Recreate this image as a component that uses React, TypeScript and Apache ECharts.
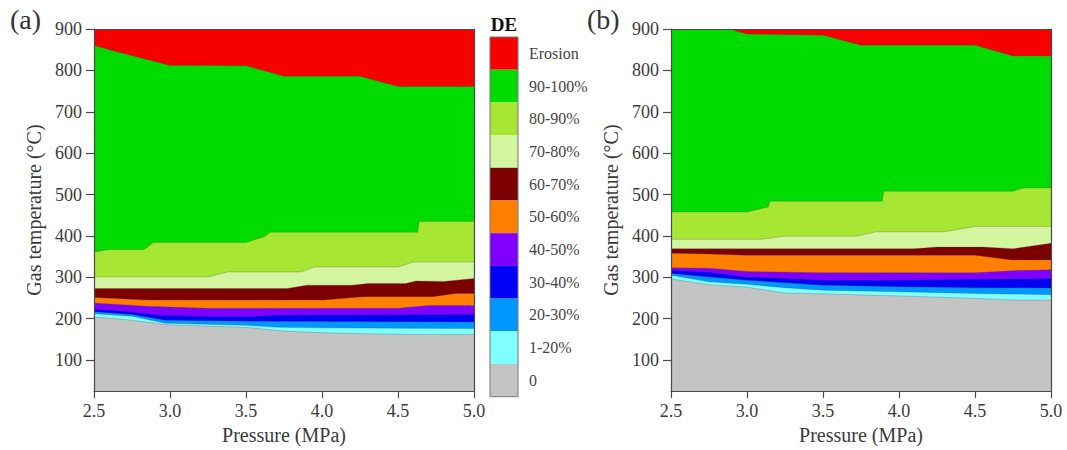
import React, { useEffect, useRef } from "react";
import * as echarts from "echarts";

type Pt = [number, number];

const LEGEND_LABELS = ["Erosion", "90-100%", "80-90%", "70-80%", "60-70%", "50-60%", "40-50%", "30-40%", "20-30%", "1-20%", "0"];
const COLORS = ["#f80000", "#00dc00", "#a8e634", "#d3f5a0", "#7d0000", "#ff8000", "#8000ff", "#0000f5", "#0098ff", "#80ffff", "#c4c4c4"];
const Y_TICKS = [100, 200, 300, 400, 500, 600, 700, 800, 900];

// Panel (a): upper boundary of each DE band
const A_EROSION: Pt[] = [[2.5, 900], [5.0, 900]];
const A_G90: Pt[] = [[2.5, 860], [2.65, 845], [3.0, 812], [3.5, 811], [3.75, 786], [4.25, 786], [4.5, 761], [5.0, 761]];
const A_G80: Pt[] = [[2.5, 361], [2.6, 367], [2.83, 367], [2.89, 384], [3.5, 384], [3.62, 398], [3.66, 409], [4.63, 409], [4.64, 435], [5.0, 435]];
const A_G70: Pt[] = [[2.5, 301], [3.25, 301], [3.38, 313], [3.86, 313], [3.95, 325], [4.5, 325], [4.6, 337], [5.0, 337]];
const A_R60: Pt[] = [[2.5, 273], [3.77, 273], [3.9, 281], [4.2, 281], [4.3, 285], [4.55, 285], [4.62, 291], [4.8, 290], [5.0, 297]];
const A_O50: Pt[] = [[2.5, 251], [2.85, 245], [4.01, 245], [4.27, 253], [4.73, 253], [4.88, 261], [5.0, 261]];
const A_P40: Pt[] = [[2.5, 238], [2.85, 230], [3.25, 225], [4.5, 225], [4.7, 232], [5.0, 232]];
const A_B30: Pt[] = [[2.5, 223], [2.7, 218], [2.95, 208], [3.3, 205], [3.5, 205], [3.75, 209], [5.0, 210]];
const A_S20: Pt[] = [[2.5, 217], [2.75, 210], [2.97, 196], [3.5, 194], [4.0, 193], [5.0, 192]];
const A_C1: Pt[] = [[2.5, 212], [2.75, 206], [2.97, 189], [3.5, 184], [3.72, 179], [4.0, 178], [4.5, 177], [5.0, 176]];
const A_GRAY: Pt[] = [[2.5, 204], [2.7, 198], [3.0, 185], [3.5, 179], [3.75, 170], [4.0, 166], [4.5, 162], [5.0, 162]];

// Panel (b)
const B_EROSION: Pt[] = [[2.5, 900], [5.0, 900]];
const B_G90: Pt[] = [[2.5, 900], [2.88, 900], [3.0, 888], [3.5, 885], [3.75, 861], [4.5, 861], [4.75, 835], [5.0, 835]];
const B_G80: Pt[] = [[2.5, 458], [3.0, 458], [3.14, 470], [3.15, 484], [3.89, 484], [3.9, 508], [4.75, 508], [4.82, 516], [5.0, 516]];
const B_G70: Pt[] = [[2.5, 392], [3.1, 392], [3.24, 399], [3.72, 399], [3.85, 410], [4.3, 410], [4.5, 423], [5.0, 423]];
const B_R60: Pt[] = [[2.5, 369], [4.1, 369], [4.25, 373], [4.55, 373], [4.75, 369], [5.0, 382]];
const B_O50: Pt[] = [[2.5, 358], [2.75, 356], [3.0, 353], [4.5, 353], [4.74, 342], [5.0, 342]];
const B_P40: Pt[] = [[2.5, 323], [2.75, 322], [3.0, 314], [3.5, 311], [4.5, 311], [4.74, 316], [5.0, 318]];
const B_B30: Pt[] = [[2.5, 317], [2.75, 312], [3.0, 301], [3.5, 293], [4.0, 293], [4.5, 295], [5.0, 297]];
const B_S20: Pt[] = [[2.5, 309], [2.75, 301], [3.0, 293], [3.5, 281], [4.0, 277], [4.5, 275], [5.0, 274]];
const B_C1: Pt[] = [[2.5, 305], [2.75, 289], [3.0, 283], [3.25, 275], [3.5, 269], [4.0, 265], [4.5, 261], [5.0, 258]];
const B_GRAY: Pt[] = [[2.5, 296], [2.75, 282], [3.0, 276], [3.25, 262], [3.5, 260], [4.0, 255], [4.5, 249], [4.75, 245], [5.0, 245]];

const PANEL_A = [A_EROSION, A_G90, A_G80, A_G70, A_R60, A_O50, A_P40, A_B30, A_S20, A_C1, A_GRAY];
const PANEL_B = [B_EROSION, B_G90, B_G80, B_G70, B_R60, B_O50, B_P40, B_B30, B_S20, B_C1, B_GRAY];

const FONT = "'Liberation Serif', 'Times New Roman', serif";
const AXIS_COLOR = "#4a4a4a";
const TEXT_COLOR = "#3a3a3a";

export default function App() {
  const ref = useRef<HTMLDivElement>(null);
  useEffect(() => {
    document.body.style.margin = "0";
    const chart = echarts.init(ref.current!, undefined, { renderer: "svg" });
    const grids = [
      { left: 94, top: 29, width: 380, height: 366 },
      { left: 671, top: 29, width: 380, height: 366 },
    ];
    const xAxis: any[] = [];
    const yAxis: any[] = [];
    grids.forEach((_, gi) => {
      xAxis.push({
        type: "value", gridIndex: gi, min: 2.5, max: 5.0, interval: 0.5, z: 10,
        name: "Pressure (MPa)", nameLocation: "middle", nameGap: 31,
        nameTextStyle: { fontFamily: FONT, fontSize: 20, color: TEXT_COLOR },
        axisLine: { show: true, lineStyle: { color: AXIS_COLOR, width: 1.2 } },
        axisTick: { show: true, inside: false, length: 7, lineStyle: { color: AXIS_COLOR, width: 1.2 } },
        axisLabel: { fontFamily: FONT, fontSize: 18, color: TEXT_COLOR, margin: 11, formatter: (v: number) => v.toFixed(1) },
        splitLine: { show: false },
      });
      xAxis.push({
        type: "value", gridIndex: gi, min: 2.5, max: 5.0, position: "top", z: 10,
        axisLine: { show: true, lineStyle: { color: AXIS_COLOR, width: 1.2 } },
        axisTick: { show: false }, axisLabel: { show: false }, splitLine: { show: false },
      });
      yAxis.push({
        type: "value", gridIndex: gi, min: 25, max: 900, z: 10,
        name: "Gas temperature (\u00B0C)", nameLocation: "middle", nameGap: 50,
        nameTextStyle: { fontFamily: FONT, fontSize: 20, color: TEXT_COLOR },
        axisLine: { show: true, lineStyle: { color: AXIS_COLOR, width: 1.2 } },
        axisTick: { show: true, inside: false, length: 8, customValues: Y_TICKS, lineStyle: { color: AXIS_COLOR, width: 1.2 } },
        axisLabel: { fontFamily: FONT, fontSize: 18, color: TEXT_COLOR, margin: 12, customValues: Y_TICKS },
        splitLine: { show: false },
      });
      yAxis.push({
        type: "value", gridIndex: gi, min: 25, max: 900, position: "right", z: 10,
        axisLine: { show: true, lineStyle: { color: AXIS_COLOR, width: 1.2 } },
        axisTick: { show: false }, axisLabel: { show: false }, splitLine: { show: false },
      });
    });
    const series: any[] = [];
    [PANEL_A, PANEL_B].forEach((bands, gi) => {
      bands.forEach((pts, bi) => {
        series.push({
          type: "line", name: LEGEND_LABELS[bi], xAxisIndex: gi * 2, yAxisIndex: gi * 2,
          data: pts, symbol: "none", silent: true, smooth: false,
          lineStyle: { width: bi === 0 ? 0 : 0.6, color: "rgba(70,70,70,0.45)" },
          areaStyle: { color: COLORS[bi], opacity: 1, origin: "start" },
        });
      });
    });
    const cellTop = 37, cellH = 32.7, cellX = 490, cellW = 28;
    const graphic: any[] = [
      { type: "text", left: 10, top: 5, style: { text: "(a)", fontFamily: FONT, fontSize: 28, fill: "#333" } },
      { type: "text", left: 587, top: 5, style: { text: "(b)", fontFamily: FONT, fontSize: 28, fill: "#333" } },
      { type: "text", x: 504, y: 24, style: { text: "DE", fontFamily: FONT, fontSize: 19, fontWeight: "bold", fill: "#111", align: "center", verticalAlign: "middle" } },
    ];
    LEGEND_LABELS.forEach((lab, i) => {
      graphic.push({
        type: "rect", shape: { x: cellX, y: cellTop + i * cellH, width: cellW, height: cellH },
        style: { fill: COLORS[i], stroke: null },
      });
      graphic.push({
        type: "text", x: 529, y: cellTop + i * cellH + cellH / 2,
        style: { text: lab, fontFamily: FONT, fontSize: 16, fill: "#444", verticalAlign: "middle" },
      });
    });
    graphic.push({
      type: "rect", shape: { x: cellX, y: cellTop, width: cellW, height: cellH * LEGEND_LABELS.length },
      style: { fill: "none", stroke: "#777", lineWidth: 1 },
    });
    chart.setOption({
      animation: false,
      backgroundColor: "#ffffff",
      grid: grids,
      xAxis, yAxis, series, graphic,
    });
    return () => chart.dispose();
  }, []);
  return <div ref={ref} style={{ width: 1067, height: 450 }} />;
}
